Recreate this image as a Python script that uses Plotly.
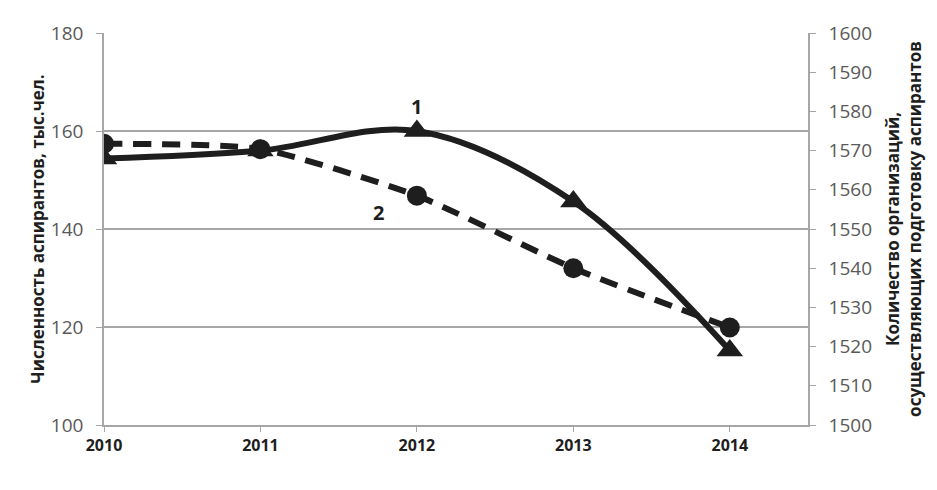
import plotly.graph_objects as go

years = [2010, 2011, 2012, 2013, 2014]
students = [157.4, 156.3, 146.8, 132.0, 119.9]          # series 2, left axis
organizations = [1568, 1570, 1575, 1557, 1519]          # series 1, right axis

left_title = "Численность аспирантов, тыс.чел."
right_title = "Количество организаций,<br>осуществляющих подготовку аспирантов"

ink = "#1e1e1e"
grid = "#a6a6a6"
tickc = "#595959"
font = "Open Sans"

fig = go.Figure()
fig.add_trace(go.Scatter(
    x=years, y=organizations, yaxis="y2", mode="lines+markers",
    line=dict(color=ink, width=6, shape="spline", smoothing=1),
    marker=dict(symbol="triangle-up", size=23, color=ink),
    showlegend=False))
fig.add_trace(go.Scatter(
    x=years, y=students, yaxis="y", mode="lines+markers",
    line=dict(color=ink, width=6, dash="18px,11px", shape="spline", smoothing=0.6),
    marker=dict(symbol="circle", size=20, color=ink),
    showlegend=False))

fig.add_annotation(x=2012, y=organizations[2], yref="y2", text="<b>1</b>",
                   showarrow=False, yshift=25, font=dict(family=font, size=20, color=ink))
fig.add_annotation(x=2012, y=students[2], yref="y", text="<b>2</b>",
                   showarrow=False, xshift=-38, yshift=-17, font=dict(family=font, size=20, color=ink))

fig.update_layout(
    width=937, height=490,
    margin=dict(l=96, r=137, t=25, b=73),
    plot_bgcolor="white", paper_bgcolor="white",
    font=dict(family=font, color=tickc),
    xaxis=dict(range=[2010, 2014.5], tickvals=years, ticktext=[str(y) for y in years],
               automargin=False,
               showgrid=False, zeroline=False, showline=True, linecolor=grid, linewidth=1.5,
               ticks="outside", ticklen=5, tickcolor=grid,
               tickfont=dict(family=font, size=16, color=ink, weight="bold")),
    yaxis=dict(range=[100, 180], dtick=20, showgrid=True, gridcolor=grid, gridwidth=1.5,
               automargin=False,
               zeroline=False, showline=True, linecolor=grid, linewidth=1.5,
               ticks="outside", ticklen=6, tickcolor=grid, ticklabelstandoff=9,
               tickfont=dict(family=font, size=19, color=tickc),
               title=dict(text=left_title, standoff=2,
                          font=dict(family=font, size=17, color=ink, weight="bold"))),
    yaxis2=dict(range=[1500, 1600], dtick=10, overlaying="y", side="right",
                automargin=False,
                showgrid=False, zeroline=False, showline=True, linecolor=grid, linewidth=1.5,
                ticks="outside", ticklen=6, tickcolor=grid, ticklabelstandoff=9,
                tickfont=dict(family=font, size=19, color=tickc),
                title=dict(text=right_title, standoff=16,
                           font=dict(family=font, size=17, color=ink, weight="bold"))),
)

fig.write_html("out.html")
